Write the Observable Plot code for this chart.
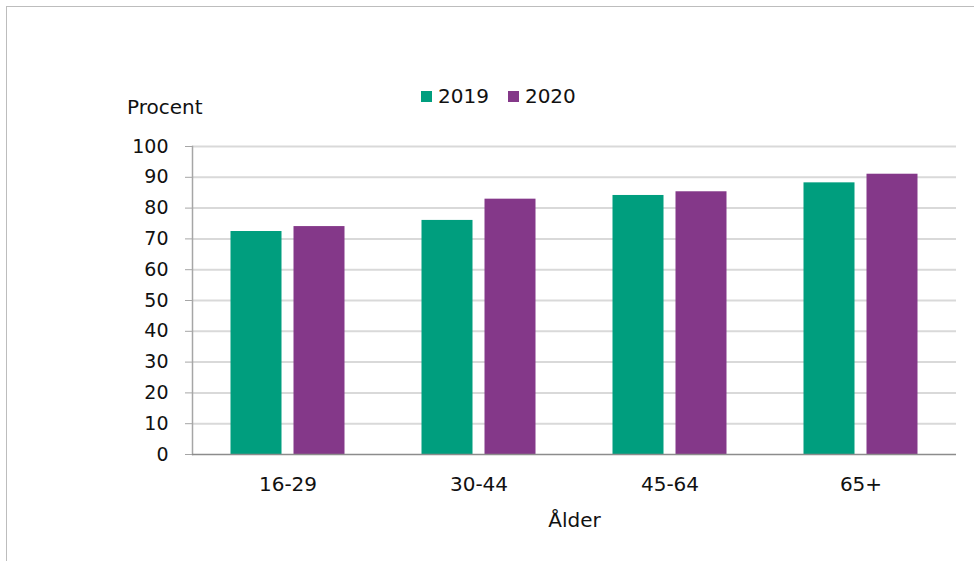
<!DOCTYPE html>
<html>
<head>
<meta charset="utf-8">
<script src="https://cdn.jsdelivr.net/npm/d3@7"></script>
<script src="https://cdn.jsdelivr.net/npm/@observablehq/plot@0.6"></script>
<style>
  html, body { margin: 0; padding: 0; background: #fff; }
  #wrap { position: relative; width: 974px; height: 561px; overflow: hidden; font-family: "DejaVu Sans", Verdana, sans-serif; color: #111; }
  #border { position: absolute; left: 6px; top: 6px; width: 1000px; height: 600px; border-top: 1.5px solid #bdbdbd; border-left: 1.5px solid #bdbdbd; }
  #chart { position: absolute; left: 0; top: 0; }
  #ylabel { position: absolute; left: 127px; top: 95px; font-size: 20px; }
  #legend { position: absolute; left: 421px; top: 84px; font-size: 20px; display: flex; align-items: center; }
  .sw { display: inline-block; width: 11px; height: 11px; margin-right: 6px; }
  .item { display: flex; align-items: center; margin-right: 19px; }
</style>
</head>
<body>
<div id="wrap">
  <div id="border"></div>
  <div id="chart"></div>
  <div id="ylabel">Procent</div>
  <div id="legend"></div>
</div>
<script>
const ages = ["16-29", "30-44", "45-64", "65+"];
const years = ["2019", "2020"];
const values2019 = [72.4, 76.0, 84.1, 88.2];
const values2020 = [74.0, 82.9, 85.3, 91.0];
const yTicks = [0, 10, 20, 30, 40, 50, 60, 70, 80, 90, 100];
const colors = ["#009e7e", "#843889"];

const data = [
  ...ages.map((a, i) => ({age: a, year: years[0], value: values2019[i]})),
  ...ages.map((a, i) => ({age: a, year: years[1], value: values2020[i]}))
];

const chart = Plot.plot({
  width: 974,
  height: 561,
  marginLeft: 192,
  marginRight: 18,
  marginTop: 146,
  marginBottom: 107,
  style: {fontFamily: "DejaVu Sans, Verdana, sans-serif", fontSize: "20px", color: "#111", background: "transparent"},
  x: {domain: ages, padding: 0, label: null},
  y: {domain: [0, 100], label: null},
  color: {domain: years, range: colors},
  marks: [
    Plot.ruleY(yTicks.filter(d => d > 0), {stroke: "#d9d9d9", strokeWidth: 2}),
    Plot.barY(data.filter(d => d.year === years[0]), {x: "age", y: "value", fill: "year", insetLeft: 38.5, insetRight: 101.5}),
    Plot.barY(data.filter(d => d.year === years[1]), {x: "age", y: "value", fill: "year", insetLeft: 101.5, insetRight: 38.5}),
    Plot.frame({anchor: "left", stroke: "#a6a6a6", strokeWidth: 1.5}),
    Plot.ruleY([0], {stroke: "#8c8c8c", strokeWidth: 1.5}),
    Plot.axisY({ticks: yTicks, tickSize: 7, tickPadding: 17, stroke: "#a6a6a6", label: null, fontSize: 19, tickFormat: d => String(d)}),
    Plot.axisX({tickSize: 0, tickPadding: 22, label: "Ålder", labelAnchor: "center", labelOffset: 72, labelArrow: "none"})
  ]
});
document.getElementById("chart").appendChild(chart);

const legend = document.getElementById("legend");
years.forEach((y, i) => {
  const it = document.createElement("div");
  it.className = "item";
  it.innerHTML = `<span class="sw" style="background:${colors[i]}"></span><span>${y}</span>`;
  legend.appendChild(it);
});
</script>
</body>
</html>
